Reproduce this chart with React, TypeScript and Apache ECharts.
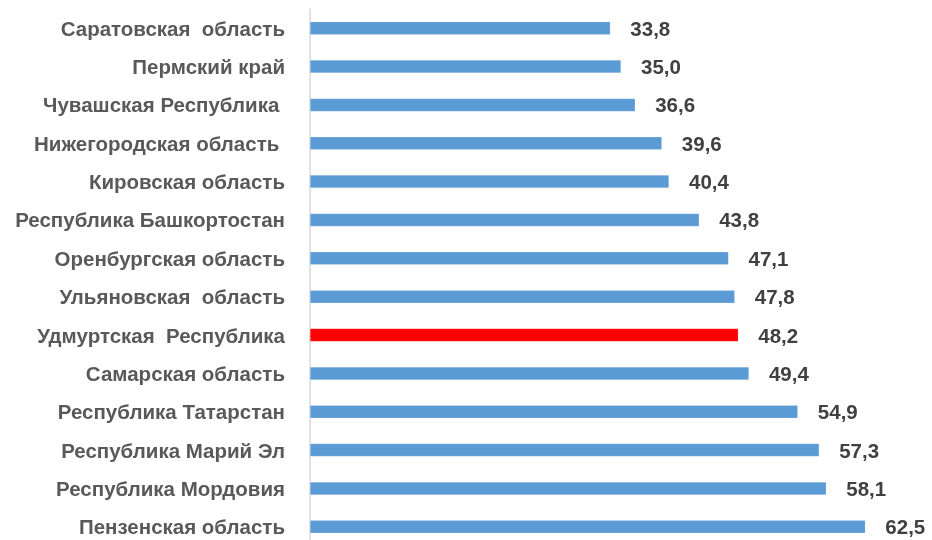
import React, { useEffect, useRef } from "react";
import * as echarts from "echarts";

const categories = [
  "Саратовская  область",
  "Пермский край",
  "Чувашская Республика ",
  "Нижегородская область ",
  "Кировская область",
  "Республика Башкортостан",
  "Оренбургская область",
  "Ульяновская  область",
  "Удмуртская  Республика",
  "Самарская область",
  "Республика Татарстан",
  "Республика Марий Эл",
  "Республика Мордовия",
  "Пензенская область",
];
const values = [33.8, 35.0, 36.6, 39.6, 40.4, 43.8, 47.1, 47.8, 48.2, 49.4, 54.9, 57.3, 58.1, 62.5];
const highlight = "Удмуртская  Республика";

export default function App() {
  const ref = useRef<HTMLDivElement>(null);
  useEffect(() => {
    if (!ref.current) return;
    const chart = echarts.init(ref.current, undefined, { renderer: "svg" });
    const data = values.map((v, i) => ({
      value: v,
      itemStyle: {
        color: categories[i] === highlight ? "#FF0000" : "#5B9BD5",
      },
    }));
    chart.setOption({
      animation: false,
      grid: { left: 310, right: 0, top: 9, bottom: -6, outerBoundsMode: "none", containLabel: false },
      xAxis: {
        type: "value",
        min: 0,
        max: 70,
        show: false,
      },
      yAxis: {
        type: "category",
        inverse: true,
        data: categories,
        axisLine: { show: true, lineStyle: { color: "#D9D9D9", width: 1.5 } },
        axisTick: { show: false },
        axisLabel: {
          margin: 25,
          color: "#595959",
          fontFamily: "Liberation Sans, Arial",
          fontWeight: "bold",
          fontSize: 20.5,
        },
      },
      series: [
        {
          type: "bar",
          data,
          barWidth: 13,
          itemStyle: { borderColor: "rgba(255,255,255,0.35)", borderWidth: 0.5 },
          label: {
            show: true,
            position: "right",
            distance: 20,
            color: "#404040",
            fontFamily: "Liberation Sans, Arial",
            fontWeight: "bold",
            fontSize: 20.5,
            formatter: (p: any) => p.value.toFixed(1).replace(".", ","),
          },
        },
      ],
    });
    return () => chart.dispose();
  }, []);
  return (
    <div
      ref={ref}
      style={{ position: "fixed", left: 0, top: 0, width: 932, height: 540 }}
    />
  );
}
